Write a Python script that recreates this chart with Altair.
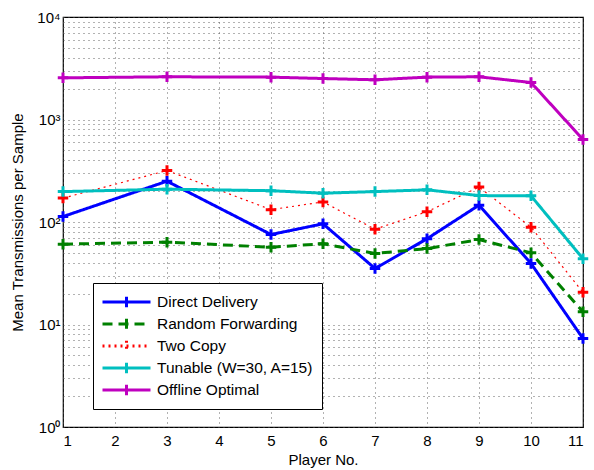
import altair as alt
import pandas as pd

players = [1, 3, 5, 6, 7, 8, 9, 10, 11]
series_names = ["Direct Delivery", "Random Forwarding", "Two Copy",
                "Tunable (W=30, A=15)", "Offline Optimal"]
direct = [113, 250, 75.5, 96, 35.2, 68.6, 146, 39.4, 7.3]
random_fw = [60.8, 63.5, 56.8, 61.3, 49.3, 55, 67.5, 50, 13.3]
two_copy = [171, 318, 132, 157, 85, 126, 219, 89, 20.6]
tunable = [198, 209, 202, 191, 198, 206, 181, 180, 43.8]
offline = [2550, 2610, 2590, 2510, 2440, 2590, 2610, 2295, 638]

colors = ["#0000FF", "#008000", "#FF0000", "#00BFBF", "#BF00BF"]
dashes = [[1, 0], [10, 6], [2, 4], [1, 0], [1, 0]]
x_ticks = list(range(1, 12))
y_grid = [m * 10 ** k for k in range(4) for m in range(1, 10)] + [10000]

rows = []
for name, vals in zip(series_names, [direct, random_fw, two_copy, tunable, offline]):
    for p, v in zip(players, vals):
        rows.append({"series": name, "player": p, "value": v})
df = pd.DataFrame(rows)

label_expr = ("datum.value == 1 ? '10⁰' : datum.value == 10 ? '10¹' : "
              "datum.value == 100 ? '10²' : datum.value == 1000 ? '10³' : "
              "datum.value == 10000 ? '10⁴' : ''")

FONT = "Liberation Sans"
FS = 15
x_enc = alt.X("player:Q", title="Player No.",
              scale=alt.Scale(domain=[1, 11], nice=False),
              axis=alt.Axis(values=x_ticks, format="d", grid=True,
                            gridDash=[1, 4], gridColor="#555555", gridOpacity=0.9,
                            tickSize=0, labelPadding=6, titlePadding=4,
                            domain=False, labelFont=FONT, titleFont=FONT,
                            labelFontSize=FS, titleFontSize=FS,
                            labelColor="black", titleColor="black",
                            titleFontWeight="normal"))
y_enc = alt.Y("value:Q", title="Mean Transmissions per Sample",
              scale=alt.Scale(type="log", domain=[1, 10000], nice=False),
              axis=alt.Axis(values=y_grid, labelExpr=label_expr, grid=True,
                            gridDash=[1, 4], gridColor="#555555", gridOpacity=0.9,
                            tickSize=0, labelPadding=3, labelOverlap=False,
                            titlePadding=11, domain=False, labelFont=FONT,
                            titleFont=FONT, labelFontSize=FS, titleFontSize=FS,
                            labelColor="black", titleColor="black",
                            titleFontWeight="normal"))

color_scale = alt.Scale(domain=series_names, range=colors)
dash_scale = alt.Scale(domain=series_names, range=dashes)

legend = alt.Legend(
    title=None, orient="none", legendX=30, legendY=266,
    strokeColor="black", fillColor="white", padding=8,
    symbolType="M-1,0H1M0,-0.22V0.22", symbolSize=2304, symbolStrokeWidth=3,
    clipHeight=22, rowPadding=0, labelOffset=5,
    labelFont=FONT, labelFontSize=15.5, labelColor="black",
    symbolFillColor="transparent",
)

lines = alt.Chart(df).mark_line().encode(
    x=x_enc, y=y_enc,
    color=alt.Color("series:N", scale=color_scale, sort=series_names,
                    legend=legend),
    strokeDash=alt.StrokeDash("series:N", scale=dash_scale, sort=series_names,
                              legend=legend),
    strokeWidth=alt.condition(alt.datum.series == "Two Copy",
                              alt.value(1.2), alt.value(3)),
    order="player:Q",
)

points = alt.Chart(df).mark_point(
    shape="M-1,0H1M0,-1V1", size=110, strokeWidth=3, filled=False, opacity=1
).encode(
    x=x_enc, y=y_enc,
    color=alt.Color("series:N", scale=color_scale, sort=series_names,
                    legend=legend),
)

chart = alt.layer(lines, points).properties(
    width=520, height=410,
    autosize="none",
    padding={"left": 63, "top": 17, "right": 11, "bottom": 43},
).configure_view(
    stroke="black", strokeWidth=1.2
)

chart.save("out.html", embed_options={"renderer": "svg", "actions": False})
